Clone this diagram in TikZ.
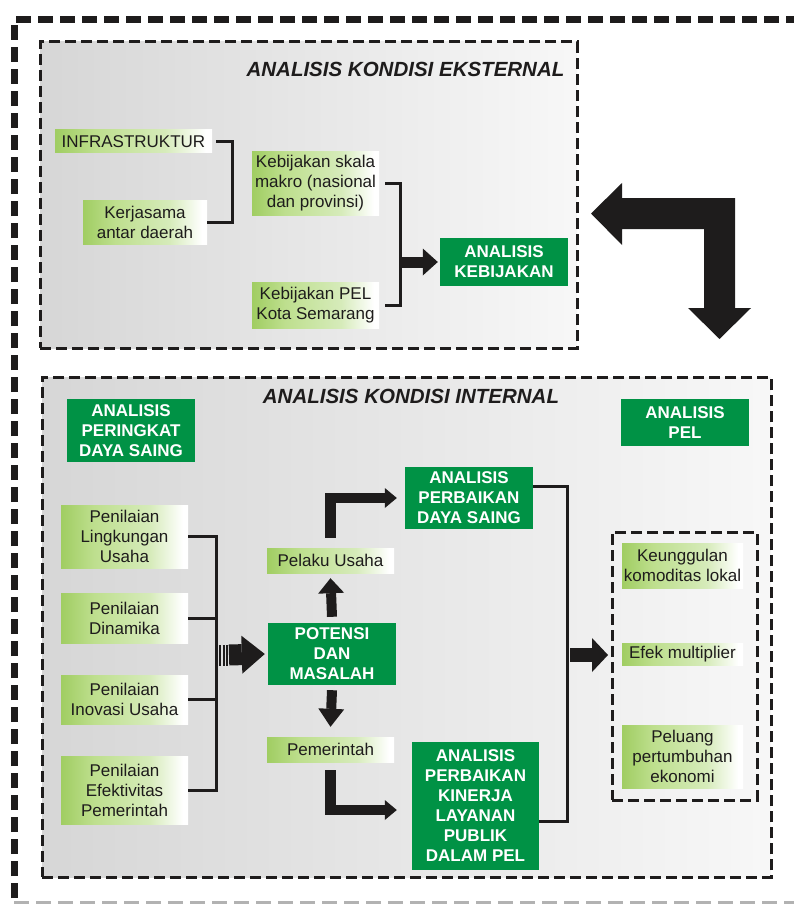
\documentclass[tikz,border=0pt]{standalone}
\usepackage{fontspec}
\setmainfont{Liberation Sans}
\usetikzlibrary{arrows.meta}
\definecolor{pelgreen}{RGB}{0,146,69}
\definecolor{lgA}{RGB}{160,205,98}
\definecolor{lgB}{RGB}{190,223,142}
\definecolor{lgC}{RGB}{214,235,186}
\definecolor{ink}{RGB}{30,28,28}
\pgfdeclarehorizontalshading{lgshade}{100bp}{color(0bp)=(lgA); color(25bp)=(lgA); color(38bp)=(lgB); color(60bp)=(lgC); color(73bp)=(white); color(100bp)=(white)}
\tikzset{
  txt/.style={font=\fontsize{17}{20}\selectfont, text=ink, align=center, inner sep=0pt},
  lbox/.style={txt, shade, shading=lgshade},
  gbox/.style={fill=pelgreen, text=white, font=\fontsize{17}{20}\selectfont\bfseries, align=center, inner sep=0pt},
  titletxt/.style={font=\fontsize{20.5}{24}\selectfont\bfseries\itshape, text=ink, inner sep=0pt},
  bigbox/.style={draw=ink, line width=3pt, dash pattern=on 11pt off 5pt, left color=black!16, right color=black!3, inner sep=0pt},
  smallbox/.style={draw=ink, line width=3pt, dash pattern=on 11pt off 5pt, inner sep=0pt},
  outerdash/.style={draw=ink, line width=7pt, dash pattern=on 15pt off 7pt},
  outerfade/.style={draw=black!30, line width=3pt, dash pattern=on 15pt off 7pt},
  bline/.style={draw=ink, line width=3pt},
  blk/.style={draw=ink, line width=#1},
}
\begin{document}
\begin{tikzpicture}[x=1pt,y=-1pt]
\useasboundingbox (0,0) rectangle (793,904);
% outer frame
\draw[outerdash] (14.5,898) -- (14.5,19.5) -- (800,19.5);
\draw[outerfade] (14,902) -- (800,902);

% ---------- external ----------
\node[bigbox, minimum width=537pt, minimum height=306pt] (ext) at (308.5,195) {};
\node[titletxt] (exttitle) at (405.5,69) {ANALISIS KONDISI EKSTERNAL};
\node[lbox, minimum width=157pt, minimum height=23pt] (infra) at (133.5,141.5) {INFRASTRUKTUR};
\node[lbox, minimum width=124pt, minimum height=44pt] (kerja) at (145,222) {Kerjasama\\antar daerah};
\node[lbox, minimum width=127pt, minimum height=63pt] (makro) at (315.5,183.5) {Kebijakan skala\\makro (nasional\\dan provinsi)};
\node[lbox, minimum width=127pt, minimum height=46pt] (pelkota) at (315.5,305) {Kebijakan PEL\\Kota Semarang};
\node[gbox, minimum width=128pt, minimum height=48pt] (kebijakan) at (504,262) {ANALISIS\\KEBIJAKAN};

\draw[bline] ([xshift=4pt]infra.east) -- ++(16,0) |- (kerja.east);
\draw[bline] ([xshift=6pt]makro.east) -- ++(15,0) |- ([xshift=6pt]pelkota.east);
\coordinate (b2) at (401.5,262);
\draw[blk=11pt, -{Triangle[length=15pt,width=27pt,line width=0pt]}] (b2) -- ([xshift=-2pt]kebijakan.west);

% big L arrow
\fill[ink] (591,213.5) -- (622,183) -- (622,198) -- (735,198) -- (735,308) -- (751,308)
  -- (719.5,339) -- (688,308) -- (704,308) -- (704,229) -- (622,229) -- (622,245) -- cycle;

% ---------- internal ----------
\node[bigbox, minimum width=729pt, minimum height=500pt] (int) at (406.5,627) {};
\node[titletxt] (inttitle) at (411,396) {ANALISIS KONDISI INTERNAL};
\node[gbox, minimum width=128pt, minimum height=63pt] (peringkat) at (131,430.5) {ANALISIS\\PERINGKAT\\DAYA SAING};
\node[gbox, minimum width=128pt, minimum height=47pt] (pel) at (685,422.5) {ANALISIS\\PEL};
\node[gbox, minimum width=128pt, minimum height=62pt] (dayasaing) at (469,498) {ANALISIS\\PERBAIKAN\\DAYA SAING};

\node[lbox, minimum width=127pt, minimum height=63pt] (ling) at (124.5,536.5) {Penilaian\\Lingkungan\\Usaha};
\node[lbox, minimum width=127pt, minimum height=50pt] (dinamika) at (124.5,618) {Penilaian\\Dinamika};
\node[lbox, minimum width=127pt, minimum height=49pt] (inovasi) at (124.5,699.5) {Penilaian\\Inovasi Usaha};
\node[lbox, minimum width=127pt, minimum height=68pt] (efektif) at (124.5,790) {Penilaian\\Efektivitas\\Pemerintah};

\node[gbox, minimum width=128pt, minimum height=62pt] (potensi) at (332,654) {POTENSI\\DAN\\MASALAH};
\node[lbox, minimum width=127pt, minimum height=25pt] (pelaku) at (330.5,560.5) {Pelaku Usaha};
\node[lbox, minimum width=127pt, minimum height=25pt] (pemerintah) at (330.5,749.5) {Pemerintah};
\node[gbox, minimum width=127pt, minimum height=128pt] (kinerja) at (475.5,806) {ANALISIS\\PERBAIKAN\\KINERJA\\LAYANAN\\PUBLIK\\DALAM PEL};

\node[smallbox, minimum width=145pt, minimum height=268pt] (inner) at (684.5,666) {};
\node[lbox, minimum width=121pt, minimum height=45pt] (keunggulan) at (682.5,565.5) {Keunggulan\\komoditas lokal};
\node[lbox, minimum width=121pt, minimum height=22pt] (efek) at (682.5,654) {Efek multiplier};
\node[lbox, minimum width=121pt, minimum height=63pt] (peluang) at (682.5,756.5) {Peluang\\pertumbuhan\\ekonomi};

% left bracket
\coordinate (lbx) at (216,536.5);
\draw[bline] (ling.east) -- (lbx) |- (efektif.east);
\draw[bline] (dinamika.east) -- (dinamika.east -| lbx);
\draw[bline] (inovasi.east) -- (inovasi.east -| lbx);

% striped arrow into potensi
\coordinate (sa) at (219,655);
\coordinate (sb) at (229,655);
\draw[blk=21pt, dash pattern=on 2pt off 1.5pt] (sa) -- (sb);
\draw[blk=21pt, -{Triangle[length=23pt,width=38pt,line width=0pt]}] (sb) -- ([xshift=-3pt]potensi.west);

% up / down arrows
\draw[blk=10pt, -{Triangle[length=15pt,width=26pt,line width=0pt]}] ([yshift=6pt]potensi.north) -- ([yshift=-5pt]pelaku.south);
\draw[blk=10pt, -{Triangle[length=18pt,width=26pt,line width=0pt]}] ([yshift=-5pt]potensi.south) -- ([yshift=10pt]pemerintah.north);

% elbow arrows
\draw[blk=10.5pt, -{Triangle[length=12pt,width=20pt,line width=0pt]}] ([yshift=10pt]pelaku.north) |- ([xshift=-8pt]dayasaing.west);
\draw[blk=10.5pt, -{Triangle[length=12pt,width=20pt,line width=0pt]}] ([yshift=-8pt]pemerintah.south) |- ([xshift=-15pt,yshift=-4pt]kinerja.west);

% right bracket
\coordinate (rb) at (567,486);
\draw[bline] ([yshift=12pt]dayasaing.east) -- (rb) |- ([yshift=-15pt]kinerja.east);
\coordinate (rbm) at (570,655);
\coordinate (rbe) at (608,655);
\draw[blk=14pt, -{Triangle[length=16pt,width=34pt,line width=0pt]}] (rbm) -- (rbe);
\end{tikzpicture}
\end{document}
